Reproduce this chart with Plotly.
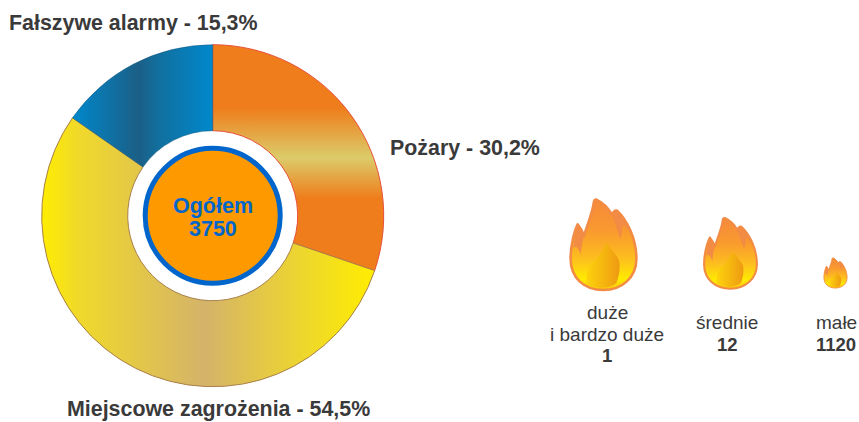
import base64
import plotly.graph_objects as go

# ---- data ----
categories = ["Pożary", "Miejscowe zagrożenia", "Fałszywe alarmy"]
shares = [30.2, 54.5, 15.3]
total_label = "Ogółem"
total_value = 3750
fire_sizes = ["duże<br>i bardzo duże", "średnie", "małe"]
fire_counts = [1, 12, 1120]

W, H = 859, 422
TEXT = "#3a3a3a"
FONT = "Liberation Sans, Arial, sans-serif"


def px(x):
    return x / W


def py(y):
    return 1 - y / H


def fmt(v):
    return f"{v:.1f}".replace(".", ",")


# pie geometry, in page pixels
CX, CY, R = 212.7, 215.7, 171.0
HOLE_R = 85.0

fig = go.Figure(
    go.Pie(
        labels=categories,
        values=shares,
        sort=False,
        direction="clockwise",
        rotation=0,
        hole=HOLE_R / R,
        textinfo="none",
        hoverinfo="label+percent",
        showlegend=False,
        domain=dict(x=[px(CX - R), px(CX + R)], y=[py(CY + R), py(CY - R)]),
        marker=dict(
            colors=["#EF7D1B", "#E6C93A", "#0F7AAE"],
            line=dict(color=["#E8503A", "#A9804A", "rgba(20,90,130,0.5)"], width=1),
        ),
    )
)

shapes = [
    dict(
        type="circle",
        xref="paper",
        yref="paper",
        x0=px(CX - 67.5),
        x1=px(CX + 67.5),
        y0=py(CY + 67.5),
        y1=py(CY - 67.5),
        fillcolor="#FF9900",
        line=dict(color="#0066CC", width=5),
    )
]

annotations = []


def note(x, y, text, size, color=TEXT, bold=False, xanchor="center"):
    annotations.append(
        dict(
            x=px(x),
            y=py(y),
            xref="paper",
            yref="paper",
            text=f"<b>{text}</b>" if bold else text,
            showarrow=False,
            xanchor=xanchor,
            yanchor="middle",
            align="center",
            font=dict(family=FONT, size=size, color=color),
        )
    )


# pie labels
label_pos = [(388, 148), (65, 409), (7, 23)]
for cat, val, (lx, ly) in zip(categories, shares, label_pos):
    note(lx, ly, f"{cat} - {fmt(val)}%", 21.4, bold=True, xanchor="left")

# centre text
note(CX, 206, total_label, 21.5, color="#0066CC", bold=True)
note(CX, 229, str(total_value), 21.5, color="#0066CC", bold=True)

# flame icon
flame_svg = """<svg xmlns="http://www.w3.org/2000/svg" viewBox="80 46 220 295" preserveAspectRatio="none">
<defs>
<linearGradient id="a" x1="0" y1="0" x2="0" y2="1">
<stop offset="0" stop-color="#F58A3C"/><stop offset="0.35" stop-color="#F99A2E"/>
<stop offset="0.65" stop-color="#FDBE1E"/><stop offset="0.88" stop-color="#FFEB00"/>
<stop offset="1" stop-color="#FBC30F"/></linearGradient>
<linearGradient id="b" x1="0" y1="0" x2="1" y2="0">
<stop offset="0" stop-color="#FDD20C"/><stop offset="1" stop-color="#EE9A12"/></linearGradient>
</defs>
<path d="M168 54 C185 62 205 80 216 100 C220 92 225 86 232 88 C262 115 292 175 292 235
C292 295 245 332 190 332 C130 332 88 295 88 235 C88 195 100 150 110 130 C118 140 124 150 130 165
C140 130 158 90 160 62 Q162 52 168 54 Z" fill="url(#a)" stroke="#F28B44" stroke-width="8" stroke-linejoin="round"/>
<path d="M110 130 C118 140 124 150 130 165 C124 185 121 205 120 222 C112 205 104 190 96 205 C100 175 104 150 110 130 Z" fill="#F28B44"/>
<path d="M216 100 C220 92 225 86 232 88 C250 105 268 135 278 165 C268 145 255 130 250 132 C248 148 246 162 243 176 C235 155 225 125 216 100 Z" fill="#F28B44"/>
<path d="M197 186 C215 205 230 225 238 240 C243 265 238 290 230 310 C205 330 165 330 138 310
C135 285 140 265 152 250 C158 245 165 240 172 232 C182 218 192 200 197 186 Z" fill="url(#b)"/>
</svg>"""
flame_uri = "data:image/svg+xml;base64," + base64.b64encode(flame_svg.encode()).decode()

flame_boxes = [(568, 197, 71, 96), (702, 216, 57, 75), (823, 257, 25, 32)]
images = [
    dict(
        source=flame_uri,
        xref="paper",
        yref="paper",
        x=px(x),
        y=py(y),
        sizex=w / W,
        sizey=h / H,
        xanchor="left",
        yanchor="top",
        sizing="stretch",
        layer="above",
    )
    for x, y, w, h in flame_boxes
]

# flame captions
note(607, 312, "duże", 19)
note(607, 334, "i bardzo duże", 19)
note(607, 355, f"<b>{fire_counts[0]}</b>", 18.5)
note(727, 322, fire_sizes[1], 19)
note(727, 344, f"<b>{fire_counts[1]}</b>", 18.5)
note(836, 322, fire_sizes[2], 19)
note(836, 344, f"<b>{fire_counts[2]}</b>", 18.5)

fig.update_layout(
    width=W,
    height=H,
    margin=dict(l=0, r=0, t=0, b=0),
    paper_bgcolor="white",
    plot_bgcolor="white",
    shapes=shapes,
    annotations=annotations,
    images=images,
)

# Plotly pies have no gradient option, so the slices it drew get gradient paints.
post = """
document.body.style.margin = '0';
document.body.style.overflow = 'hidden';
var gd = document.getElementById('{plot_id}');
var svg = gd.querySelector('svg.main-svg');
var NS = 'http://www.w3.org/2000/svg';
var defs = document.createElementNS(NS, 'defs');
var grads = [
 {id:'g0', x2:0, y2:1, stops:[[0,'#EF7D1B'],[0.28,'#EF7D1B'],[0.5,'#DCCB6A'],[0.68,'#EF7D1B'],[1,'#EF7D1B']]},
 {id:'g1', x2:1, y2:0, stops:[[0,'#FFED00'],[0.11,'#F0D92A'],[0.49,'#D4B36A'],[0.8,'#EFD82A'],[1,'#FFED00']]},
 {id:'g2', x2:1, y2:0, stops:[[0,'#0088CC'],[0.47,'#1B5F86'],[0.62,'#11709F'],[1,'#0088CC']]}
];
grads.forEach(function(g){
  var lg = document.createElementNS(NS, 'linearGradient');
  lg.setAttribute('id', g.id);
  lg.setAttribute('x1', 0); lg.setAttribute('y1', 0);
  lg.setAttribute('x2', g.x2); lg.setAttribute('y2', g.y2);
  g.stops.forEach(function(s){
    var st = document.createElementNS(NS, 'stop');
    st.setAttribute('offset', s[0]); st.setAttribute('stop-color', s[1]);
    lg.appendChild(st);
  });
  defs.appendChild(lg);
});
svg.insertBefore(defs, svg.firstChild);
gd.querySelectorAll('g.slice path.surface').forEach(function(p, i){
  p.style.fill = 'url(#g' + i + ')';
});
"""

fig.write_html("out.html", post_script=post, config={"displayModeBar": False})
